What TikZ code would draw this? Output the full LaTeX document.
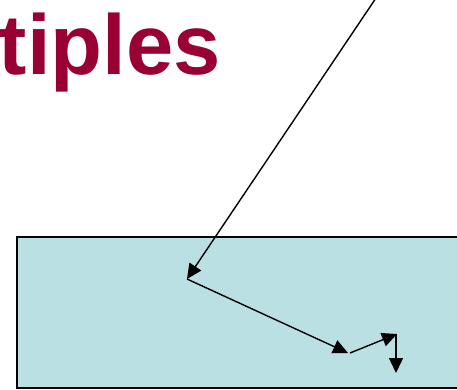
\documentclass[tikz,border=0pt]{standalone}
\usepackage{fontspec}
\setmainfont{Liberation Sans}
\usetikzlibrary{arrows.meta}
\definecolor{titlered}{RGB}{153,0,51}
\definecolor{water}{RGB}{186,224,227}
\tikzset{ray/.style={line width=1.4pt,-{Triangle[length=15pt,width=14pt]}}}
\begin{document}
\begin{tikzpicture}[x=1pt,y=-1pt]
\useasboundingbox (0,0) rectangle (457,390);
\begin{scope}
\clip (0,0) rectangle (457,390);
\node[anchor=base west,inner sep=0pt,text=titlered,font=\bfseries\fontsize{85}{92}\selectfont] (title) at (-1.5,74.5) {tiples};
\draw[fill=water,line width=1.4pt] (17,237) rectangle (475,388);
\end{scope}
\coordinate (p0) at (376,-2);
\coordinate (p1) at (187,279);
\coordinate (p2) at (348,353);
\coordinate (p3) at (350,353);
\coordinate (p4) at (397,334);
\coordinate (p5) at (396,334);
\coordinate (p6) at (396,373);
\draw[ray] (p0) -- (p1);
\draw[ray] (p1) -- (p2);
\draw[ray] (p3) -- (p4);
\draw[ray] (p5) -- (p6);
\end{tikzpicture}
\end{document}
